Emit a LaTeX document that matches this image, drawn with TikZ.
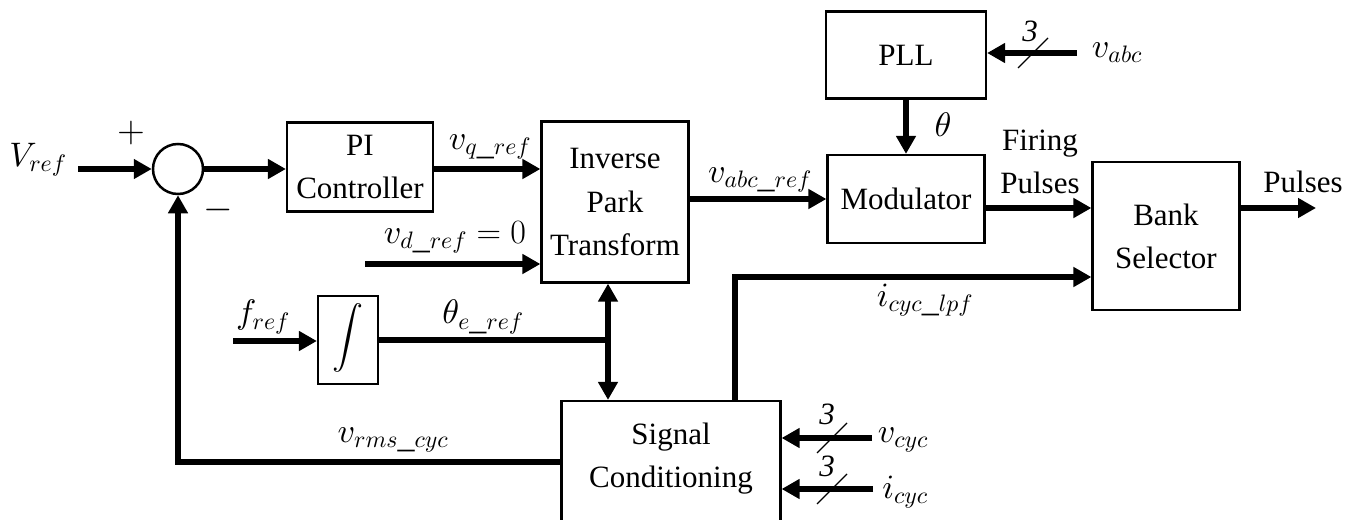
\RequirePackage{fix-cm}
\documentclass[tikz,border=0pt]{standalone}
\usepackage{fontspec}
\setmainfont{Liberation Serif}
\DeclareFontShape{OMX}{cmex}{m}{n}{<->cmex10}{}
\DeclareFontShape{OML}{cmm}{m}{it}{<->cmmi10}{}
\DeclareFontShape{OMS}{cmsy}{m}{n}{<->cmsy10}{}
\usetikzlibrary{arrows.meta,calc}
\begin{document}
\begin{tikzpicture}[x=1pt,y=-1pt,
  font=\fontsize{31}{43}\selectfont,
  blk/.style={draw,line width=2.2pt,align=center,inner sep=0pt},
  sig/.style={line width=5.5pt,-{Triangle[length=18pt,width=19pt]}},
  sigline/.style={line width=5.5pt},
  dbl/.style={line width=5.5pt,{Triangle[length=18pt,width=19pt]}-{Triangle[length=18pt,width=19pt]}},
  slash/.style={line width=1.2pt},
  lbl/.style={inner sep=0pt},
  mlbl/.style={inner sep=0pt,font=\fontsize{34}{40}\selectfont},
  sgn/.style={inner sep=0pt,font=\fontsize{38}{40}\selectfont}]
\useasboundingbox (0,0) rectangle (1356,519);
% blocks
\node[draw,circle,line width=2.5pt,minimum size=50pt,inner sep=0pt] (sum) at (178,169) {};
\node[blk,minimum width=146pt,minimum height=89pt] (pi) at (360,167) {PI\\Controller};
\node[blk,minimum width=147pt,minimum height=161pt] (ip) at (615,202) {Inverse\\Park\\Transform};
\node[blk,minimum width=157pt,minimum height=88pt] (mod) at (906,199) {Modulator};
\node[blk,minimum width=160pt,minimum height=87pt] (pll) at (906,55) {PLL};
\node[blk,minimum width=147pt,minimum height=148pt] (bank) at (1166,236) {Bank\\Selector};
\node[blk,minimum width=60pt,minimum height=88pt] (int) at (348,340) {};
\node[inner sep=0pt] (intsym) at (348,338) {$\displaystyle\int$};
\node[blk,minimum width=219pt,minimum height=124pt] (sc) at (671,463) {};
\node[lbl,align=center] (sctext) at (671,459) {Signal\\Conditioning};
% coordinates
\coordinate (vrefin) at (78,169);
\coordinate (vdin) at (365,264);
\coordinate (fin) at (233,341);
\coordinate (J) at (608,340);
\coordinate (vabcin) at (1077,53);
\coordinate (firing) at (985,208);
\coordinate (pout) at (1316,208);
\coordinate (up) at (735,277);
\coordinate (fb) at (178,462);
\coordinate (vcycin) at (872,438);
\coordinate (icycin) at (873,489);
\coordinate (ipout) at (688,199);
% connectors
\draw[sig] (vrefin) -- (sum.west);
\draw[sig] (sum.east) -- (pi.west |- sum.east);
\draw[sig] (pi.east |- sum.east) -- (ip.west |- sum.east);
\draw[sig] (vdin) -- (ip.west |- vdin);
\draw[sig] (ipout) -- (mod.west |- ipout);
\draw[sig] (pll.south) -- (mod.north);
\draw[sig] (vabcin) -- (pll.east |- vabcin);
\draw[sig] (firing) -- (bank.west |- firing);
\draw[sig] (bank.east |- pout) -- (pout);
\draw[sig] (sc.north -| up) -- (up) -- (bank.west |- up);
\draw[sig] (fin) -- (int.west |- fin);
\draw[sigline] (int.east) -- (J);
\draw[dbl] (ip.south -| J) -- (sc.north -| J);
\draw[sig] (sc.west |- fb) -- (fb) -- (sum.south);
\draw[sig] (vcycin) -- (sc.east |- vcycin);
\draw[sig] (icycin) -- (sc.east |- icycin);
% bus slashes
\draw[slash] (1018,68) -- (1048,38);
\draw[slash] (817,453) -- (847,423);
\draw[slash] (817,504) -- (847,474);
\node[lbl] (n3a) at (1030,31) {\itshape 3};
\node[lbl] (n3b) at (827,414) {\itshape 3};
\node[lbl] (n3c) at (827,466) {\itshape 3};
% labels
\node[mlbl] (lvref) at (38,160) {$V_{ref}$};
\node[sgn] (lplus) at (131,133) {$+$};
\node[sgn] (lminus) at (218,210) {$-$};
\node[mlbl] (lvq) at (490,147) {$v_{q\_ref}$};
\node[mlbl] (lvd) at (455,237) {$v_{d\_ref}=0$};
\node[mlbl] (lf) at (263,317) {$f_{ref}$};
\node[mlbl] (lth) at (483,317) {$\theta_{e\_ref}$};
\node[mlbl] (lvabcref) at (760,180) {$v_{abc\_ref}$};
\node[mlbl] (ltheta) at (943,125) {$\theta$};
\node[lbl,align=center] (lfiring) at (1040,162) {Firing\\Pulses};
\node[lbl] (lpulses) at (1303,182) {Pulses};
\node[mlbl] (lvabc) at (1117,53) {$v_{abc}$};
\node[mlbl] (licyclpf) at (925,300) {$i_{cyc\_lpf}$};
\node[mlbl] (lvrms) at (393,440) {$v_{rms\_cyc}$};
\node[mlbl] (lvcyc) at (903,440) {$v_{cyc}$};
\node[mlbl] (licyc) at (905,492) {$i_{cyc}$};
\end{tikzpicture}
\end{document}
